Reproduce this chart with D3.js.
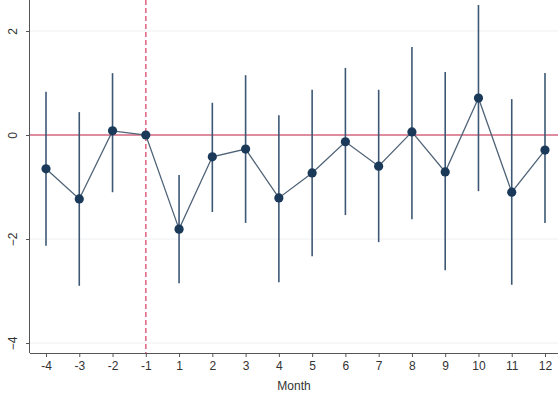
<!DOCTYPE html>
<html>
<head>
<meta charset="utf-8">
<script src="https://cdn.jsdelivr.net/npm/d3@7"></script>
<style>
  html, body { margin: 0; padding: 0; background: #fff; }
  svg { display: block; }
  text { font-family: "Liberation Sans", Arial, sans-serif; }
</style>
</head>
<body>
<svg id="chart" width="558" height="405"></svg>
<script>
// Event-study estimates by month relative to the reference month (-1)
const months = ["-4", "-3", "-2", "-1", "1", "2", "3", "4", "5", "6", "7", "8", "9", "10", "11", "12"];
const estimate = [-0.65, -1.23, 0.08, 0, -1.81, -0.42, -0.27, -1.21, -0.73, -0.13, -0.60, 0.06, -0.71, 0.71, -1.10, -0.29];
const ciLow  = [-2.13, -2.90, -1.10, null, -2.85, -1.48, -1.69, -2.83, -2.33, -1.54, -2.06, -1.62, -2.60, -1.08, -2.88, -1.69];
const ciHigh = [0.83, 0.44, 1.19, null, -0.77, 0.62, 1.15, 0.38, 0.87, 1.29, 0.87, 1.69, 1.21, 2.50, 0.69, 1.19];
const yTicks = [2, 0, -2, -4];
const refMonth = "-1";

const svg = d3.select("#chart");
const W = 558, H = 405;
const m = { left: 30, right: 0, top: 0, bottom: 52 };

const x = d3.scalePoint().domain(months).range([46, 545]);
const y = d3.scaleLinear().domain([-4.192, 2.596]).range([H - m.bottom, m.top]);

const rows = months.map((mo, i) => ({ mo, est: estimate[i], lo: ciLow[i], hi: ciHigh[i] }));

// light horizontal gridlines
svg.append("g").selectAll("line").data(yTicks).join("line")
  .attr("x1", m.left).attr("x2", W)
  .attr("y1", d => y(d)).attr("y2", d => y(d))
  .attr("stroke", "#eef0f2").attr("stroke-width", 1);

// reference lines
svg.append("line")
  .attr("x1", m.left).attr("x2", W)
  .attr("y1", y(0)).attr("y2", y(0))
  .attr("stroke", "#d46a80").attr("stroke-width", 1.6);
svg.append("line")
  .attr("x1", x(refMonth)).attr("x2", x(refMonth))
  .attr("y1", m.top).attr("y2", H - m.bottom)
  .attr("stroke", "#e26a86").attr("stroke-width", 1.6)
  .attr("stroke-dasharray", "5,3");

// confidence intervals
svg.append("g").selectAll("line").data(rows.filter(d => d.lo !== null)).join("line")
  .attr("x1", d => x(d.mo)).attr("x2", d => x(d.mo))
  .attr("y1", d => y(d.lo)).attr("y2", d => y(d.hi))
  .attr("stroke", "#3d5875").attr("stroke-width", 1.6);

// connecting line
svg.append("path").datum(rows)
  .attr("fill", "none")
  .attr("stroke", "#4f6377").attr("stroke-width", 1.3)
  .attr("d", d3.line().x(d => x(d.mo)).y(d => y(d.est)));

// point estimates
svg.append("g").selectAll("circle").data(rows).join("circle")
  .attr("cx", d => x(d.mo)).attr("cy", d => y(d.est))
  .attr("r", 4.6)
  .attr("fill", "#1b3a5a");

// y axis
const yAxis = svg.append("g").attr("transform", `translate(${m.left},0)`)
  .call(d3.axisLeft(y).tickValues(yTicks).tickSize(4).tickFormat(d3.format("d")));
yAxis.select(".domain").attr("stroke", "#555").attr("d", `M-0.5,${m.top}V${H - m.bottom}`);
yAxis.selectAll(".tick line").attr("stroke", "#555");
yAxis.selectAll(".tick text")
  .attr("x", 0).attr("y", 0)
  .attr("transform", "translate(-17,0) rotate(-90)")
  .attr("text-anchor", "middle").attr("dy", "0.35em")
  .attr("font-size", 12).attr("fill", "#333");

// x axis
const xAxis = svg.append("g").attr("transform", `translate(0,${H - m.bottom})`)
  .call(d3.axisBottom(x).tickSize(4).tickSizeOuter(0));
xAxis.select(".domain").attr("stroke", "#555").attr("d", `M${m.left},0.5H${W}`);
xAxis.selectAll(".tick line").attr("stroke", "#555");
xAxis.selectAll(".tick text")
  .attr("y", 8).attr("dy", "0.71em")
  .attr("font-size", 12).attr("fill", "#333");

svg.append("text")
  .attr("x", (m.left + W) / 2).attr("y", 390)
  .attr("text-anchor", "middle")
  .attr("font-size", 12).attr("fill", "#333")
  .text("Month");
</script>
</body>
</html>
